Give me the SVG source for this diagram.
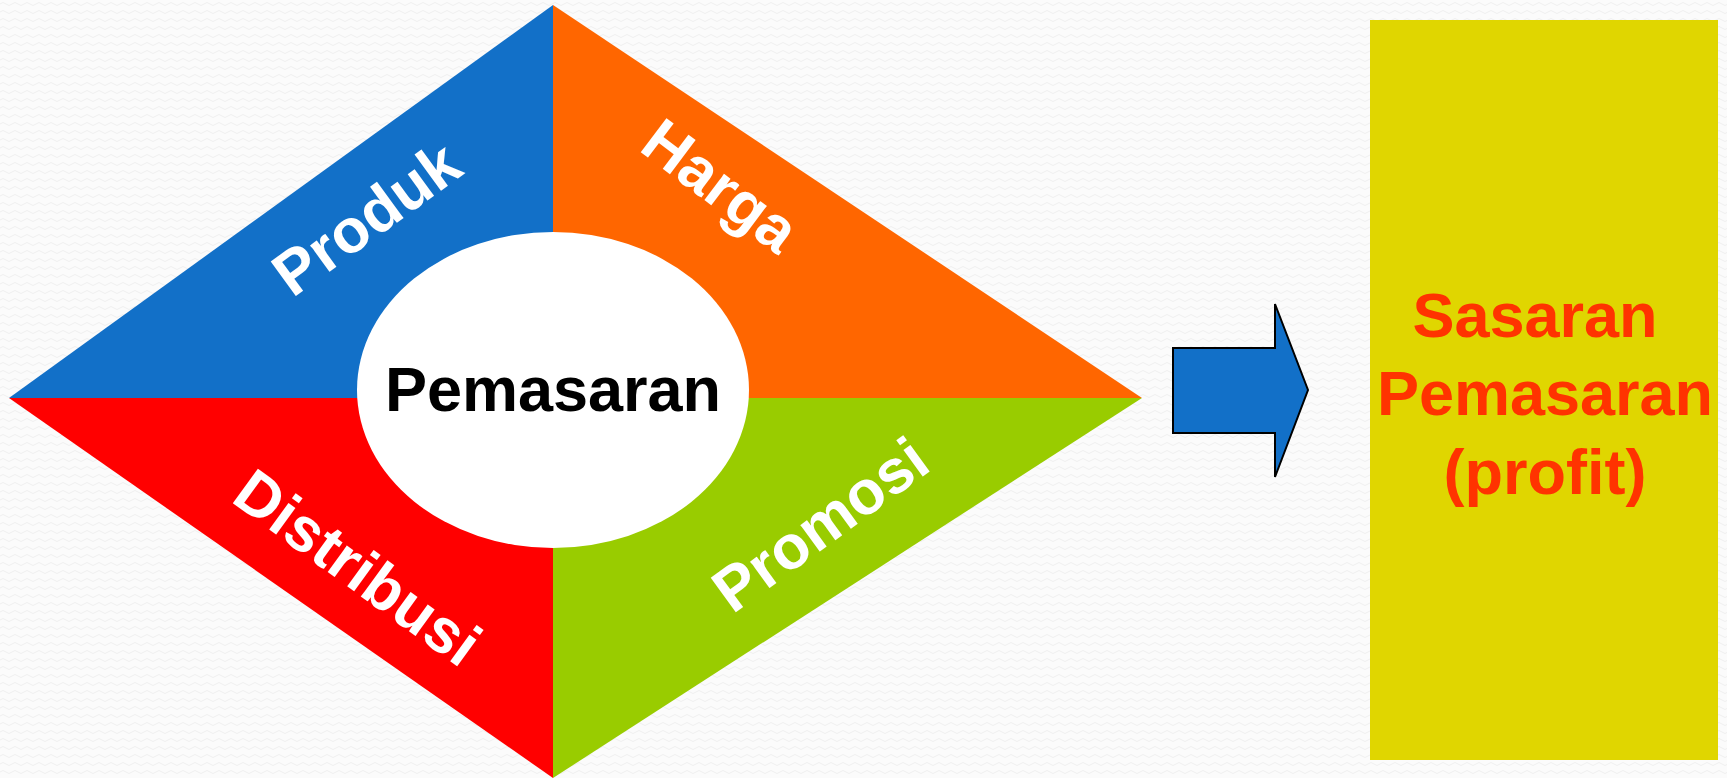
<svg xmlns="http://www.w3.org/2000/svg" width="1727" height="778" viewBox="0 0 1727 778">
<defs>
<pattern id="bg" width="12" height="8" patternUnits="userSpaceOnUse">
<rect width="12" height="8" fill="#fbfbfb"/>
<path d="M0 4 Q3 1 6 4 T12 4" fill="none" stroke="#efefef" stroke-width="1"/>
</pattern>
<style>
.lbl{font-family:"Liberation Sans",Arial,sans-serif;font-weight:bold;fill:#fff;font-size:62px;text-anchor:middle}
.ctr{font-family:"Liberation Sans",Arial,sans-serif;font-weight:bold;fill:#000;font-size:63px;text-anchor:middle}
.goal{font-family:"Liberation Sans",Arial,sans-serif;font-weight:bold;fill:#FF3300;font-size:63px;text-anchor:middle}
</style>
</defs>
<rect width="1727" height="778" fill="url(#bg)"/>
<g id="produk">
<polygon points="9,398 553,5 553,398" fill="#1270C8"/>
<text class="lbl" transform="translate(366,218) rotate(-36)" y="22">Produk</text>
</g>
<g id="harga">
<polygon points="553,5 1142,398 553,398" fill="#FF6600"/>
<text class="lbl" transform="translate(721,185) rotate(37)" y="22">Harga</text>
</g>
<g id="distribusi">
<polygon points="9,398 553,398 553,778" fill="#FF0000"/>
<text class="lbl" transform="translate(358,567) rotate(36)" y="22">Distribusi</text>
</g>
<g id="promosi">
<polygon points="553,398 1142,398 553,778" fill="#99CC00"/>
<text class="lbl" transform="translate(820,524) rotate(-36)" y="22">Promosi</text>
</g>
<g id="pemasaran">
<ellipse cx="553" cy="390" rx="196" ry="158" fill="#fff"/>
<text class="ctr" x="553" y="411">Pemasaran</text>
</g>
<g id="connectors">
<polygon points="1173,348 1275,348 1275,304 1308,390 1275,477 1275,433 1173,433" fill="#1270C8" stroke="#000" stroke-width="2"/>
</g>
<g id="sasaran">
<rect x="1370" y="20" width="348" height="740" fill="#E0D600"/>
<text class="goal" x="1535" y="337">Sasaran</text>
<text class="goal" x="1545" y="415">Pemasaran</text>
<text class="goal" x="1545" y="494">(profit)</text>
</g>
</svg>
